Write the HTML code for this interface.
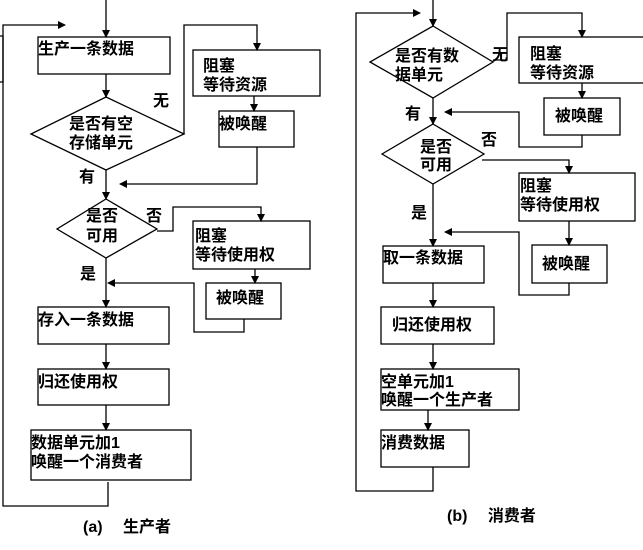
<!DOCTYPE html>
<html><head><meta charset="utf-8"><style>
html,body{margin:0;padding:0;background:#fff;}
svg text{font-family:"Liberation Sans","Noto Sans CJK SC",sans-serif;font-size:16px;font-weight:bold;fill:#000;}
</style></head><body>
<svg width="643" height="545" viewBox="0 0 643 545" xmlns="http://www.w3.org/2000/svg">
<defs><marker id="a" markerWidth="8" markerHeight="8" refX="7" refY="4" orient="auto" markerUnits="userSpaceOnUse"><path d="M0,0 L8,4 L0,8 z" fill="#000"/></marker></defs>
<g fill="none" stroke="#000" stroke-width="1.3">
<polyline points="0,36 3,36 3,82 0,82"/>
<line x1="106" y1="0" x2="106" y2="37" marker-end="url(#a)"/>
<polyline points="108,482 108,506 3,506 3,25 65,25" marker-end="url(#a)"/>
<rect x="38" y="37" width="132" height="37"/>
<line x1="106" y1="74" x2="106" y2="97" marker-end="url(#a)"/>
<polygon points="106,97 184,134 106,170 31,134"/>
<polyline points="184,134 184,25 257,25 257,50" marker-end="url(#a)"/>
<rect x="193" y="50" width="127" height="46"/>
<line x1="254" y1="96" x2="254" y2="111" marker-end="url(#a)"/>
<rect x="219" y="111" width="75" height="36"/>
<polyline points="257,147 257,184 120,184" marker-end="url(#a)"/>
<line x1="106" y1="170" x2="106" y2="199" marker-end="url(#a)"/>
<polygon points="106,199 157,229 106,258 57,229"/>
<polyline points="157,231 173,231 173,207 261,207 261,221" marker-end="url(#a)"/>
<rect x="193" y="221" width="117" height="48"/>
<line x1="255" y1="269" x2="255" y2="283" marker-end="url(#a)"/>
<rect x="206" y="283" width="75" height="36"/>
<polyline points="244,319 244,332 194,332 194,283 108,283" marker-end="url(#a)"/>
<line x1="106" y1="258" x2="106" y2="307" marker-end="url(#a)"/>
<rect x="38" y="307" width="131" height="37"/>
<line x1="106" y1="344" x2="106" y2="369" marker-end="url(#a)"/>
<rect x="38" y="369" width="131" height="36"/>
<line x1="106" y1="405" x2="106" y2="430" marker-end="url(#a)"/>
<rect x="31" y="430" width="160" height="50"/>
<line x1="433" y1="0" x2="433" y2="26" marker-end="url(#a)"/>
<polyline points="433,467 433,491 356,491 356,13 420,13" marker-end="url(#a)"/>
<polygon points="433,26 493,62 433,98 370,62"/>
<polyline points="493,60 507,60 507,13 582,13 582,37" marker-end="url(#a)"/>
<rect x="519" y="37" width="130" height="46"/>
<line x1="582" y1="83" x2="582" y2="98" marker-end="url(#a)"/>
<rect x="544" y="98" width="76" height="37"/>
<polyline points="582,135 582,147 519,147 519,112 445,112" marker-end="url(#a)"/>
<line x1="433" y1="98" x2="433" y2="124" marker-end="url(#a)"/>
<polygon points="433,124 484,154 433,184 382,154"/>
<polyline points="482,160 569,160 569,173" marker-end="url(#a)"/>
<rect x="519" y="173" width="116" height="48"/>
<line x1="569" y1="221" x2="569" y2="245" marker-end="url(#a)"/>
<rect x="532" y="245" width="75" height="38"/>
<polyline points="569,283 569,295 519,295 519,232 445,232" marker-end="url(#a)"/>
<line x1="433" y1="184" x2="433" y2="246" marker-end="url(#a)"/>
<rect x="383" y="246" width="101" height="37"/>
<line x1="433" y1="283" x2="433" y2="307" marker-end="url(#a)"/>
<rect x="381" y="307" width="113" height="37"/>
<line x1="433" y1="344" x2="433" y2="369" marker-end="url(#a)"/>
<rect x="381" y="369" width="138" height="41"/>
<line x1="428" y1="410" x2="428" y2="430" marker-end="url(#a)"/>
<rect x="381" y="430" width="88" height="37"/>
</g>
<text x="38" y="54">生产一条数据</text>
<text x="69" y="129">是否有空</text>
<text x="69" y="148">存储单元</text>
<text x="153" y="106">无</text>
<text x="203" y="71">阻塞</text>
<text x="203" y="90">等待资源</text>
<text x="219" y="129">被唤醒</text>
<text x="79" y="182">有</text>
<text x="86" y="221">是否</text>
<text x="86" y="241">可用</text>
<text x="146" y="221">否</text>
<text x="195" y="241">阻塞</text>
<text x="195" y="260">等待使用权</text>
<text x="216" y="303">被唤醒</text>
<text x="80" y="279">是</text>
<text x="38" y="325">存入一条数据</text>
<text x="38" y="387">归还使用权</text>
<text x="31" y="448">数据单元加1</text>
<text x="31" y="467">唤醒一个消费者</text>
<text x="83" y="532">(a)　 生产者</text>
<text x="395" y="61">是否有数</text>
<text x="395" y="80">据单元</text>
<text x="492" y="60">无</text>
<text x="530" y="59">阻塞</text>
<text x="530" y="78">等待资源</text>
<text x="555" y="121">被唤醒</text>
<text x="405" y="119">有</text>
<text x="420" y="152">是否</text>
<text x="420" y="170">可用</text>
<text x="481" y="145">否</text>
<text x="520" y="191">阻塞</text>
<text x="520" y="210">等待使用权</text>
<text x="542" y="269">被唤醒</text>
<text x="411" y="218">是</text>
<text x="383" y="263">取一条数据</text>
<text x="392" y="330">归还使用权</text>
<text x="381" y="387">空单元加1</text>
<text x="381" y="405">唤醒一个生产者</text>
<text x="381" y="448">消费数据</text>
<text x="447" y="521">(b)　 消费者</text>
</svg>
</body></html>
